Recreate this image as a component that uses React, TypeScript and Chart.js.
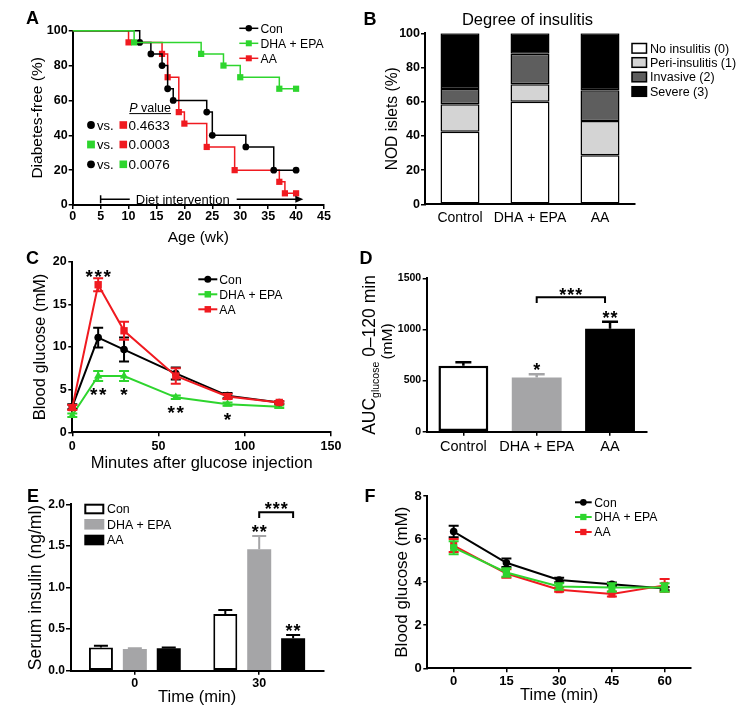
import React, { useEffect, useRef } from 'react';
import { Chart, registerables } from 'chart.js';

Chart.register(...registerables);

const FF = '"Liberation Sans", Arial, Helvetica, sans-serif';
Chart.defaults.font.family = FF;
Chart.defaults.color = '#000';

const BLACK = '#000000';
const GREEN = '#2ed52e';
const RED = '#f01a20';
const WHITE = '#ffffff';
const PERI_GREY = '#d4d4d4';
const INVASIVE_GREY = '#5e5e5e';
const BAR_GREY = '#a5a5a7';

// ---------------- Panel A: diabetes-free survival ----------------
const groupNames = ['Con', 'DHA + EPA', 'AA'];
const kmConWeeks = [0, 12, 14, 16, 17, 18, 24, 25, 31, 36, 40];
const kmConPct = [100, 93.3, 86.7, 80, 66.7, 60, 53.3, 40, 33.3, 20, 20];
const kmDhaWeeks = [0, 11, 23, 27, 30, 37, 40];
const kmDhaPct = [100, 93.3, 86.7, 80, 73.3, 66.7, 66.7];
const kmAaWeeks = [0, 10, 16, 17, 19, 20, 24, 29, 37, 38, 40];
const kmAaPct = [100, 93.3, 86.7, 73.3, 53.3, 46.7, 33.3, 20, 13.3, 6.7, 6.7];
const pGroupFirst = ['Con', 'DHA + EPA', 'Con'];
const pGroupSecond = ['AA', 'AA', 'DHA + EPA'];
const pValues = ['0.4633', '0.0003', '0.0076'];
const dietStartWeek = 5;
const dietEndWeek = 41.3;
const dietLabelWeek = 19.7;
const dietLevel = 3.3;

// ---------------- Panel B: degree of insulitis ----------------
const insulitisGroups = ['Control', 'DHA + EPA', 'AA'];
const insulitisGrades = ['No insulitis (0)', 'Peri-insulitis (1)', 'Invasive (2)', 'Severe (3)'];
const gradeNone = [42.5, 60, 28.7];
const gradePeri = [16, 10.2, 20];
const gradeInvasive = [9, 17.8, 18];
const gradeSevere = [32.5, 12, 33.3];

// ---------------- Panel C: IPGTT ----------------
const ipgttMinutes = [0, 15, 30, 60, 90, 120];
const ipgttCon = [3.0, 11.1, 9.7, 6.9, 4.3, 3.5];
const ipgttConErr = [0.3, 1.15, 1.4, 0.7, 0.3, 0.15];
const ipgttDha = [2.0, 6.6, 6.6, 4.1, 3.3, 3.0];
const ipgttDhaErr = [0.2, 0.6, 0.6, 0.2, 0.2, 0.15];
const ipgttAa = [2.9, 17.3, 11.9, 6.6, 4.2, 3.5];
const ipgttAaErr = [0.3, 0.75, 1.05, 0.9, 0.3, 0.15];
const ipgttStarText = ['***', '**', '*', '**', '*'];
const ipgttStarMinute = [15, 15, 30, 60, 90];
const ipgttStarLevel = [18.8, 4.96, 4.96, 2.85, 2.03];

// ---------------- Panel D: AUC ----------------
const aucGroups = ['Control', 'DHA + EPA', 'AA'];
const aucMean = [645, 531, 1007];
const aucErr = [33, 30, 69];
const aucStarText = ['', '*', '**'];
const aucStarLevel = [0, 643, 1151];
const aucBracketLevel = 1314;
const aucBracketFoot = 1258;
const aucBracketStarLevel = 1375;

// ---------------- Panel E: serum insulin ----------------
const insulinTimes = [0, 30];
const insulinCon = [0.28, 0.68];
const insulinConErr = [0.02, 0.05];
const insulinDha = [0.26, 1.46];
const insulinDhaErr = [0.01, 0.16];
const insulinAa = [0.27, 0.39];
const insulinAaErr = [0.01, 0.04];
const insulinStarLevelDha = 1.715;
const insulinStarLevelAa = 0.53;
const insulinBracketLevel = 1.905;
const insulinBracketFoot = 1.835;
const insulinBracketStarLevel = 1.99;

// ---------------- Panel F: fasting glucose ----------------
const ogttMinutes = ['0', '15', '30', '45', '60'];
const ogttCon = [6.35, 4.9, 4.1, 3.9, 3.7];
const ogttConErr = [0.27, 0.2, 0.1, 0.08, 0.08];
const ogttDha = [5.6, 4.45, 3.8, 3.75, 3.75];
const ogttDhaErr = [0.3, 0.2, 0.15, 0.2, 0.2];
const ogttAa = [5.7, 4.4, 3.65, 3.45, 3.85];
const ogttAaErr = [0.3, 0.2, 0.1, 0.12, 0.3];

const GROUP_STYLE: any = {
  'Con': { color: BLACK, shape: 'circle' },
  'DHA + EPA': { color: GREEN, shape: 'square' },
  'AA': { color: RED, shape: 'square' },
};

// ---------------- drawing helpers ----------------
function setFont(ctx: any, size: number, weight = 'normal', style = 'normal') {
  ctx.font = `${style} ${weight} ${size}px ${FF}`;
}
function drawText(ctx: any, s: string, x: number, y: number, size: number, o: any = {}) {
  ctx.save();
  setFont(ctx, size, o.bold ? 'bold' : 'normal', o.italic ? 'italic' : 'normal');
  ctx.fillStyle = o.color || BLACK;
  ctx.textAlign = o.align || 'left';
  ctx.textBaseline = 'alphabetic';
  ctx.fillText(s, x, y + 0.358 * size);
  ctx.restore();
}
function textWidth(ctx: any, s: string, size: number, weight = 'normal', style = 'normal') {
  ctx.save();
  setFont(ctx, size, weight, style);
  const w = ctx.measureText(s).width;
  ctx.restore();
  return w;
}
function panelLetter(ctx: any, s: string, x: number, y: number) {
  drawText(ctx, s, x, y, 18, { bold: true, align: 'center' });
}
function drawStars(ctx: any, s: string, cx: number, cy: number, size: number, pitch: number) {
  ctx.save();
  setFont(ctx, size, 'bold');
  ctx.fillStyle = BLACK;
  ctx.textAlign = 'center';
  ctx.textBaseline = 'alphabetic';
  const n = s.length;
  for (let i = 0; i < n; i++) ctx.fillText('*', cx + (i - (n - 1) / 2) * pitch, cy + 0.56 * size);
  ctx.restore();
}
function drawMarker(ctx: any, shape: string, x: number, y: number, size: number, color: string) {
  ctx.save();
  ctx.fillStyle = color;
  ctx.beginPath();
  if (shape === 'circle') ctx.arc(x, y, size / 2, 0, Math.PI * 2);
  else if (shape === 'triangle') {
    ctx.moveTo(x, y - size / 2);
    ctx.lineTo(x + size / 2, y + size / 2);
    ctx.lineTo(x - size / 2, y + size / 2);
    ctx.closePath();
  } else ctx.rect(x - size / 2, y - size / 2, size, size);
  ctx.fill();
  ctx.restore();
}
function hLine(ctx: any, x1: number, x2: number, y: number, color: string, w: number) {
  ctx.save();
  ctx.strokeStyle = color;
  ctx.lineWidth = w;
  ctx.beginPath();
  ctx.moveTo(x1, y);
  ctx.lineTo(x2, y);
  ctx.stroke();
  ctx.restore();
}
function lineLegend(ctx: any, names: string[], x1: number, x2: number, rows: number[], textX: number, fontSize: number, lw: number, msize: number) {
  names.forEach((g, i) => {
    const st = GROUP_STYLE[g];
    hLine(ctx, x1, x2, rows[i], st.color, lw);
    drawMarker(ctx, st.shape, (x1 + x2) / 2, rows[i], st.shape === 'circle' ? msize : msize - 0.5, st.color);
    drawText(ctx, g, textX, rows[i], fontSize);
  });
}
function bracket(ctx: any, x1: number, x2: number, y: number, yFoot: number) {
  ctx.save();
  ctx.strokeStyle = BLACK;
  ctx.lineWidth = 2;
  ctx.beginPath();
  ctx.moveTo(x1, yFoot);
  ctx.lineTo(x1, y);
  ctx.lineTo(x2, y);
  ctx.lineTo(x2, yFoot);
  ctx.stroke();
  ctx.restore();
}
function valueOf(d: any) {
  return typeof d === 'number' ? d : d.y;
}

const errorBarPlugin = {
  id: 'errorBars',
  beforeDatasetDraw(chart: any, args: any) {
    const ds = chart.data.datasets[args.index];
    if (!ds.errorBars || ds.errorAfter) return;
    paintErrors(chart, args.index, args.meta);
  },
  afterDatasetDraw(chart: any, args: any) {
    const ds = chart.data.datasets[args.index];
    if (!ds.errorBars || !ds.errorAfter) return;
    paintErrors(chart, args.index, args.meta);
  },
};
function paintErrors(chart: any, index: number, meta: any) {
  const ds = chart.data.datasets[index];
  const ys = chart.scales.y;
  const ctx = chart.ctx;
  ctx.save();
  ctx.lineWidth = ds.errorWidth || 2;
  const cap = ds.errorCap || 5;
  meta.data.forEach((el: any, i: number) => {
    const v = valueOf(ds.data[i]);
    const e = ds.errorBars[i];
    const col = Array.isArray(ds.errorColor) ? ds.errorColor[i] : (ds.errorColor || ds.borderColor);
    ctx.strokeStyle = col;
    const top = ys.getPixelForValue(v + e);
    const bot = ds.errorUpOnly ? ys.getPixelForValue(v) : ys.getPixelForValue(v - e);
    ctx.beginPath();
    ctx.moveTo(el.x, top);
    ctx.lineTo(el.x, bot);
    ctx.moveTo(el.x - cap, top);
    ctx.lineTo(el.x + cap, top);
    if (!ds.errorUpOnly) {
      ctx.moveTo(el.x - cap, bot);
      ctx.lineTo(el.x + cap, bot);
    }
    ctx.stroke();
  });
  ctx.restore();
}

// ---------------- axis helpers ----------------
function yAxis(o: any) {
  return {
    type: 'linear',
    min: o.min,
    max: o.max,
    ticks: {
      stepSize: o.step,
      font: { family: FF, size: o.tickSize, weight: 'bold' },
      color: BLACK,
      padding: o.tickPad,
      callback: o.callback,
    },
    grid: { display: true, drawOnChartArea: false, drawTicks: true, tickLength: o.tickLen, color: BLACK, lineWidth: 1.5 },
    border: { display: true, color: BLACK, width: 2 },
    title: o.title
      ? { display: true, text: o.title, font: { family: FF, size: o.titleSize }, color: BLACK, padding: 0 }
      : { display: false },
    afterFit: (s: any) => { s.width = o.width; },
  };
}
function xAxisStyle(o: any) {
  return {
    ticks: {
      font: { family: FF, size: o.tickSize, weight: o.bold ? 'bold' : 'normal' },
      color: BLACK,
      padding: o.tickPad,
      maxRotation: 0,
      autoSkip: false,
    },
    grid: { display: true, drawOnChartArea: false, drawTicks: o.tickLen > 0, tickLength: o.tickLen, color: BLACK, lineWidth: 1.5, offset: false },
    border: { display: true, color: BLACK, width: 2 },
    title: o.title
      ? { display: true, text: o.title, font: { family: FF, size: o.titleSize }, color: BLACK, padding: 0 }
      : { display: false },
    afterFit: (s: any) => { s.height = o.height; },
  };
}
const baseOptions = {
  animation: false,
  responsive: false,
  maintainAspectRatio: false,
  devicePixelRatio: 1,
  events: [],
};
const noPlugins = { legend: { display: false }, tooltip: { enabled: false }, title: { display: false } };

// ---------------- Panel configs ----------------
function makeA() {
  const pts = (w: number[], p: number[]) => w.map((x, i) => ({ x, y: p[i] }));
  const radii = (w: number[], r: number) => w.map((_, i) => (i === 0 ? 0 : r));
  const plugin = {
    id: 'panelA',
    afterDraw(chart: any) {
      const ctx = chart.ctx;
      const xs = chart.scales.x;
      const ys = chart.scales.y;
      panelLetter(ctx, 'A', 32.5, 17.5);
      lineLegend(ctx, groupNames, 239.3, 258.3, [28.3, 43.3, 58.3], 260.5, 12.2, 1.5, 6.5);
      // P value table
      const px = 129.3;
      const wP = textWidth(ctx, 'P', 12.5, 'normal', 'italic');
      const wV = textWidth(ctx, ' value', 12.5);
      drawText(ctx, 'P', px, 107.5, 12.5, { italic: true });
      drawText(ctx, ' value', px + wP, 107.5, 12.5);
      hLine(ctx, px, px + wP + wV, 113.6, BLACK, 1);
      const rows = [125, 144.5, 164.3];
      pValues.forEach((pv, i) => {
        const a = GROUP_STYLE[pGroupFirst[i]];
        const b = GROUP_STYLE[pGroupSecond[i]];
        drawMarker(ctx, a.shape, 91, rows[i], 7.8, a.color);
        drawText(ctx, 'vs.', 97, rows[i], 13);
        drawMarker(ctx, b.shape, 123.3, rows[i], 7.6, b.color);
        drawText(ctx, pv, 128.5, rows[i], 13.5);
      });
      // Diet intervention arrow
      const x0 = xs.getPixelForValue(dietStartWeek);
      const x1 = xs.getPixelForValue(dietEndWeek);
      const xc = xs.getPixelForValue(dietLabelWeek);
      const yy = ys.getPixelForValue(dietLevel);
      const label = 'Diet intervention';
      const lw = textWidth(ctx, label, 13);
      drawText(ctx, label, xc, yy, 13, { align: 'center' });
      ctx.save();
      ctx.strokeStyle = BLACK;
      ctx.fillStyle = BLACK;
      ctx.lineWidth = 1.5;
      ctx.beginPath();
      ctx.moveTo(x0, yy - 4);
      ctx.lineTo(x0, yy + 4);
      ctx.moveTo(x0, yy);
      ctx.lineTo(xc - lw / 2 - 6, yy);
      ctx.moveTo(xc + lw / 2 + 7, yy);
      ctx.lineTo(x1 - 6, yy);
      ctx.stroke();
      ctx.beginPath();
      ctx.moveTo(x1, yy);
      ctx.lineTo(x1 - 8, yy - 3.5);
      ctx.lineTo(x1 - 8, yy + 3.5);
      ctx.closePath();
      ctx.fill();
      ctx.restore();
    },
  };
  return {
    type: 'line',
    data: {
      datasets: [
        { label: 'Con', data: pts(kmConWeeks, kmConPct), stepped: 'before', borderColor: BLACK, backgroundColor: BLACK, borderWidth: 1.5, pointStyle: 'circle', pointRadius: radii(kmConWeeks, 3.4), pointBorderWidth: 0, order: 1, clip: false },
        { label: 'DHA + EPA', data: pts(kmDhaWeeks, kmDhaPct), stepped: 'before', borderColor: GREEN, backgroundColor: GREEN, borderWidth: 1.5, pointStyle: 'rect', pointRadius: radii(kmDhaWeeks, 4.4), pointBorderWidth: 0, order: 0, clip: false },
        { label: 'AA', data: pts(kmAaWeeks, kmAaPct), stepped: 'before', borderColor: RED, backgroundColor: RED, borderWidth: 1.5, pointStyle: 'rect', pointRadius: radii(kmAaWeeks, 4.4), pointBorderWidth: 0, order: 2, clip: false },
      ],
    },
    options: {
      ...baseOptions,
      layout: { padding: { left: 28, top: 30.7, right: 34, bottom: 1 } },
      plugins: noPlugins,
      scales: {
        x: { type: 'linear', min: 0, max: 45, ...xAxisStyle({ tickSize: 12.5, bold: true, tickPad: 0, tickLen: 4, title: 'Age (wk)', titleSize: 15.5, height: 42 }), ticks: { stepSize: 5, font: { family: FF, size: 12.5, weight: 'bold' }, color: BLACK, padding: 0, maxRotation: 0, autoSkip: false } },
        y: yAxis({ min: 0, max: 100, step: 10, tickSize: 12.5, tickPad: 1, tickLen: 4, title: 'Diabetes-free (%)', titleSize: 15.5, width: 44.7, callback: (v: any) => (Number(v) % 20 === 0 ? String(v) : '') }),
      },
    },
    plugins: [plugin],
  };
}

function makeB() {
  const series = [gradeNone, gradePeri, gradeInvasive, gradeSevere];
  const colors = [WHITE, PERI_GREY, INVASIVE_GREY, BLACK];
  const plugin = {
    id: 'panelB',
    afterDraw(chart: any) {
      const ctx = chart.ctx;
      panelLetter(ctx, 'B', 12, 18.5);
      drawText(ctx, 'Degree of insulitis', 169.5, 19, 16.5, { align: 'center' });
      const rows = [48.3, 62.5, 77, 91.5];
      insulitisGrades.forEach((g, i) => {
        ctx.save();
        ctx.fillStyle = colors[i];
        ctx.strokeStyle = BLACK;
        ctx.lineWidth = 1.5;
        ctx.fillRect(274, rows[i] - 4.8, 14.5, 9.6);
        ctx.strokeRect(274, rows[i] - 4.8, 14.5, 9.6);
        ctx.restore();
        drawText(ctx, g, 292, rows[i], 12.5);
      });
    },
  };
  return {
    type: 'bar',
    data: {
      labels: insulitisGroups,
      datasets: insulitisGrades.map((g, i) => ({
        label: g,
        data: series[i],
        backgroundColor: colors[i],
        borderColor: BLACK,
        borderWidth: 1.5,
        borderSkipped: false,
        barPercentage: 0.557,
        categoryPercentage: 1,
      })),
    },
    options: {
      ...baseOptions,
      layout: { padding: { left: 25.6, top: 33.3, right: 114, bottom: 0 } },
      plugins: noPlugins,
      scales: {
        x: { type: 'category', stacked: true, offset: true, ...xAxisStyle({ tickSize: 14, bold: false, tickPad: 5.6, tickLen: 0, height: 35.7 }) },
        y: { stacked: true, ...yAxis({ min: 0, max: 100, step: 20, tickSize: 12.5, tickPad: 1, tickLen: 4, title: 'NOD islets (%)', titleSize: 15.6, width: 41.4 }) },
      },
    },
    plugins: [plugin],
  };
}

function makeC() {
  const pts = (v: number[]) => ipgttMinutes.map((x, i) => ({ x, y: v[i] }));
  const plugin = {
    id: 'panelC',
    afterDraw(chart: any) {
      const ctx = chart.ctx;
      const xs = chart.scales.x;
      const ys = chart.scales.y;
      panelLetter(ctx, 'C', 32.5, 10);
      lineLegend(ctx, groupNames, 198.3, 217.3, [31.3, 46.3, 61.3], 219.3, 12.2, 2, 7);
      ipgttStarText.forEach((s, i) => {
        drawStars(ctx, s, xs.getPixelForValue(ipgttStarMinute[i]), ys.getPixelForValue(ipgttStarLevel[i]), 19, 9);
      });
    },
  };
  const common = { borderWidth: 2, pointBorderWidth: 0, clip: false, errorWidth: 2, errorCap: 5 };
  return {
    type: 'line',
    data: {
      datasets: [
        { label: 'Con', data: pts(ipgttCon), borderColor: BLACK, backgroundColor: BLACK, pointStyle: 'circle', pointRadius: 3.8, errorBars: ipgttConErr, order: 1, ...common },
        { label: 'DHA + EPA', data: pts(ipgttDha), borderColor: GREEN, backgroundColor: GREEN, pointStyle: 'triangle', pointRadius: 4.8, errorBars: ipgttDhaErr, order: 2, ...common },
        { label: 'AA', data: pts(ipgttAa), borderColor: RED, backgroundColor: RED, pointStyle: 'rect', pointRadius: 5.2, errorBars: ipgttAaErr, order: 0, ...common },
      ],
    },
    options: {
      ...baseOptions,
      layout: { padding: { left: 30.1, top: 13.7, right: 27, bottom: 1.1 } },
      plugins: noPlugins,
      scales: {
        x: { type: 'linear', min: 0, max: 150, ...xAxisStyle({ tickSize: 12.5, bold: true, tickPad: 2.9, tickLen: 4, title: 'Minutes after glucose injection', titleSize: 16.5, height: 40.6 }), ticks: { stepSize: 50, font: { family: FF, size: 12.5, weight: 'bold' }, color: BLACK, padding: 2.9, maxRotation: 0, autoSkip: false } },
        y: yAxis({ min: 0, max: 20, step: 5, tickSize: 12.5, tickPad: 1.6, tickLen: 4, title: 'Blood glucose (mM)', titleSize: 16.5, width: 42.2 }),
      },
    },
    plugins: [errorBarPlugin, plugin],
  };
}

function makeD() {
  const plugin = {
    id: 'panelD',
    afterDraw(chart: any) {
      const ctx = chart.ctx;
      const ys = chart.scales.y;
      const meta = chart.getDatasetMeta(0);
      panelLetter(ctx, 'D', 8, 18);
      // y title with subscript
      ctx.save();
      ctx.translate(17, 115);
      ctx.rotate(-Math.PI / 2);
      ctx.fillStyle = BLACK;
      ctx.textBaseline = 'alphabetic';
      ctx.textAlign = 'left';
      const w1 = textWidth(ctx, 'AUC', 17.5);
      const w2 = textWidth(ctx, 'glucose', 10.5);
      const w3 = textWidth(ctx, ' 0\u2013120 min', 17.5);
      let x = -(w1 + w2 + w3) / 2;
      setFont(ctx, 17.5);
      ctx.fillText('AUC', x, 0);
      x += w1;
      setFont(ctx, 10.5);
      ctx.fillText('glucose', x, 3.5);
      x += w2;
      setFont(ctx, 17.5);
      ctx.fillText(' 0\u2013120 min', x, 0);
      ctx.restore();
      ctx.save();
      ctx.translate(34, 101.5);
      ctx.rotate(-Math.PI / 2);
      ctx.fillStyle = BLACK;
      ctx.textAlign = 'center';
      ctx.textBaseline = 'alphabetic';
      setFont(ctx, 15.5);
      ctx.fillText('(mM)', 0, 0);
      ctx.restore();
      // stars
      aucStarText.forEach((s, i) => {
        if (s) drawStars(ctx, s, meta.data[i].x, ys.getPixelForValue(aucStarLevel[i]), 18, 8);
      });
      const xa = meta.data[1].x;
      const xb = meta.data[2].x - 5;
      bracket(ctx, xa, xb, ys.getPixelForValue(aucBracketLevel), ys.getPixelForValue(aucBracketFoot));
      drawStars(ctx, '***', (xa + xb) / 2, ys.getPixelForValue(aucBracketStarLevel), 18, 8);
    },
  };
  return {
    type: 'bar',
    data: {
      labels: aucGroups,
      datasets: [
        {
          label: 'AUC',
          data: aucMean,
          backgroundColor: [WHITE, BAR_GREY, BLACK],
          borderColor: [BLACK, BAR_GREY, BLACK],
          borderWidth: [2.5, 0, 0],
          borderSkipped: false,
          barPercentage: 0.68,
          categoryPercentage: 1,
          errorBars: aucErr,
          errorColor: [BLACK, BAR_GREY, BLACK],
          errorUpOnly: true,
          errorAfter: true,
          errorWidth: 2.5,
          errorCap: 8,
        },
      ],
    },
    options: {
      ...baseOptions,
      layout: { padding: { left: 0, top: 38.3, right: 102.3, bottom: 0 } },
      plugins: noPlugins,
      scales: {
        x: { type: 'category', offset: true, ...xAxisStyle({ tickSize: 14.5, bold: false, tickPad: 2.3, tickLen: 4, height: 38.3 }) },
        y: yAxis({ min: 0, max: 1500, step: 500, tickSize: 10.5, tickPad: 1.5, tickLen: 4, width: 68.7 }),
      },
    },
    plugins: [errorBarPlugin, plugin],
  };
}

function makeE() {
  const pts = (v: number[]) => insulinTimes.map((x, i) => ({ x, y: v[i] }));
  const fills = [WHITE, BAR_GREY, BLACK];
  const plugin = {
    id: 'panelE',
    afterDraw(chart: any) {
      const ctx = chart.ctx;
      const ys = chart.scales.y;
      panelLetter(ctx, 'E', 33, 22);
      const rows = [35, 50.3, 66];
      groupNames.forEach((g, i) => {
        ctx.save();
        ctx.fillStyle = fills[i];
        ctx.fillRect(84.3, rows[i] - 5.3, 20, 10.6);
        if (i === 0) {
          ctx.strokeStyle = BLACK;
          ctx.lineWidth = 2;
          ctx.strokeRect(85.3, rows[i] - 4.3, 18, 8.6);
        }
        ctx.restore();
        drawText(ctx, g, 107, rows[i], 12.4);
      });
      const xd = chart.getDatasetMeta(1).data[1].x;
      const xa = chart.getDatasetMeta(2).data[1].x;
      drawStars(ctx, '**', xd, ys.getPixelForValue(insulinStarLevelDha), 18, 8);
      drawStars(ctx, '**', xa, ys.getPixelForValue(insulinStarLevelAa), 18, 8);
      bracket(ctx, xd, xa, ys.getPixelForValue(insulinBracketLevel), ys.getPixelForValue(insulinBracketFoot));
      drawStars(ctx, '***', (xd + xa) / 2, ys.getPixelForValue(insulinBracketStarLevel), 18, 8);
    },
  };
  const common = { borderSkipped: false, categoryPercentage: 0.818, barPercentage: 0.708, errorUpOnly: true, errorAfter: true, errorWidth: 2, errorCap: 7 };
  const xStyle = xAxisStyle({ tickSize: 12.5, bold: true, tickPad: 1.4, tickLen: 4, title: 'Time (min)', titleSize: 16.5, height: 36.2 });
  return {
    type: 'bar',
    data: {
      datasets: [
        { label: 'Con', data: pts(insulinCon), backgroundColor: WHITE, borderColor: BLACK, borderWidth: 2, errorBars: insulinConErr, errorColor: BLACK, ...common },
        { label: 'DHA + EPA', data: pts(insulinDha), backgroundColor: BAR_GREY, borderColor: BAR_GREY, borderWidth: 0, errorBars: insulinDhaErr, errorColor: BAR_GREY, ...common },
        { label: 'AA', data: pts(insulinAa), backgroundColor: BLACK, borderColor: BLACK, borderWidth: 0, errorBars: insulinAaErr, errorColor: BLACK, ...common },
      ],
    },
    options: {
      ...baseOptions,
      layout: { padding: { left: 25.5, top: 30.3, right: 34.7, bottom: 12.1 } },
      plugins: noPlugins,
      scales: {
        x: {
          type: 'linear',
          min: -15.4,
          max: 45.46,
          offset: false,
          ...xStyle,
          grid: { ...xStyle.grid, offset: false },
          afterBuildTicks: (s: any) => { s.ticks = insulinTimes.map((v) => ({ value: v })); },
        },
        y: yAxis({ min: 0, max: 2, step: 0.5, tickSize: 12, tickPad: 1, tickLen: 5, title: 'Serum insulin (ng/ml)', titleSize: 17.5, width: 45.5, callback: (v: any) => Number(v).toFixed(1) }),
      },
    },
    plugins: [errorBarPlugin, plugin],
  };
}

function makeF() {
  const plugin = {
    id: 'panelF',
    afterDraw(chart: any) {
      const ctx = chart.ctx;
      panelLetter(ctx, 'F', 12, 26);
      lineLegend(ctx, groupNames, 217, 233.7, [32.3, 47, 62], 236.3, 12.2, 2, 6.8);
    },
  };
  const common = { borderWidth: 2, pointBorderWidth: 0, clip: false, errorWidth: 2, errorCap: 5 };
  return {
    type: 'line',
    data: {
      labels: ogttMinutes,
      datasets: [
        { label: 'Con', data: ogttCon, borderColor: BLACK, backgroundColor: BLACK, pointStyle: 'circle', pointRadius: 3.8, errorBars: ogttConErr, order: 2, ...common },
        { label: 'DHA + EPA', data: ogttDha, borderColor: GREEN, backgroundColor: GREEN, pointStyle: 'rect', pointRadius: 5, errorBars: ogttDhaErr, order: 0, ...common },
        { label: 'AA', data: ogttAa, borderColor: RED, backgroundColor: RED, pointStyle: 'rect', pointRadius: 5, errorBars: ogttAaErr, order: 1, ...common },
      ],
    },
    options: {
      ...baseOptions,
      layout: { padding: { left: 33.8, top: 26, right: 58, bottom: 13.65 } },
      plugins: noPlugins,
      scales: {
        x: { type: 'category', offset: true, ...xAxisStyle({ tickSize: 13, bold: true, tickPad: 1.6, tickLen: 4, title: 'Time (min)', titleSize: 16.5, height: 37.05 }) },
        y: yAxis({ min: 0, max: 8, step: 2, tickSize: 13, tickPad: 1.5, tickLen: 4, title: 'Blood glucose (mM)', titleSize: 17, width: 35.5 }),
      },
    },
    plugins: [errorBarPlugin, plugin],
  };
}

const PANELS = [
  { key: 'A', left: 0, top: 0, width: 358, height: 248, make: makeA },
  { key: 'B', left: 358, top: 0, width: 391, height: 240, make: makeB },
  { key: 'C', left: 0, top: 248, width: 358, height: 226, make: makeC },
  { key: 'D', left: 358, top: 240, width: 391, height: 230, make: makeD },
  { key: 'E', left: 0, top: 474, width: 358, height: 245, make: makeE },
  { key: 'F', left: 358, top: 470, width: 391, height: 249, make: makeF },
];

function PanelCanvas({ spec }: { spec: any }) {
  const ref = useRef<HTMLCanvasElement>(null);
  useEffect(() => {
    const chart = new Chart(ref.current as any, spec.make() as any);
    return () => chart.destroy();
  }, [spec]);
  return (
    <canvas
      ref={ref}
      width={spec.width}
      height={spec.height}
      style={{ position: 'absolute', left: spec.left, top: spec.top, width: spec.width, height: spec.height }}
    />
  );
}

export default function App() {
  return (
    <div style={{ position: 'absolute', left: 0, top: 0, width: 749, height: 719, background: '#fff', overflow: 'hidden' }}>
      {PANELS.map((p) => (
        <PanelCanvas key={p.key} spec={p} />
      ))}
    </div>
  );
}
